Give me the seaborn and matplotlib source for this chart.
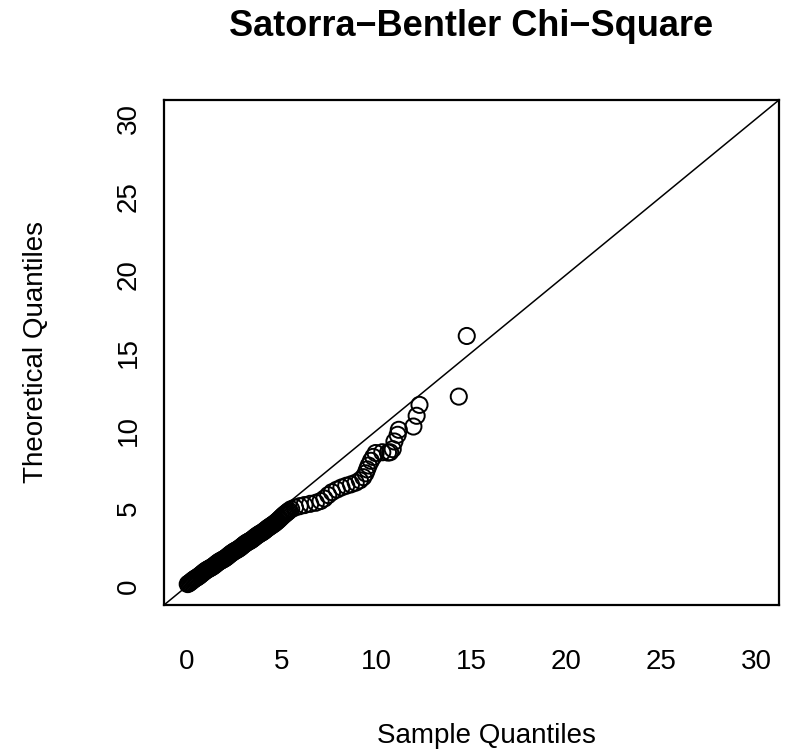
import matplotlib
matplotlib.use("Agg")
import matplotlib.pyplot as plt
import seaborn as sns
import pandas as pd

# ---- data ----
sample_q = [0.05, 0.11, 0.17, 0.23, 0.29, 0.35, 0.41, 0.47, 0.53, 0.59, 0.65, 0.71, 0.77, 0.83,
            0.89, 0.95, 1.01, 1.07, 1.13, 1.19, 1.25, 1.31, 1.37, 1.43, 1.49, 1.55, 1.61, 1.67,
            1.73, 1.79, 1.85, 1.91, 1.97, 2.03, 2.09, 2.15, 2.21, 2.27, 2.33, 2.39, 2.45, 2.51,
            2.57, 2.63, 2.69, 2.75, 2.81, 2.87, 2.93, 2.99, 3.05, 3.11, 3.17, 3.23, 3.29, 3.35,
            3.41, 3.47, 3.53, 3.59, 3.65, 3.71, 3.77, 3.83, 3.89, 3.95, 4.01, 4.07, 4.13, 4.19,
            4.25, 4.31, 4.37, 4.43, 4.49, 4.55, 4.61, 4.67, 4.73, 4.79, 4.85, 4.91, 4.97, 5.03,
            5.09, 5.15, 5.21, 5.27, 5.33, 5.39,
            5.5, 5.7, 5.95, 6.2, 6.5, 6.8, 7.05, 7.25, 7.45, 7.65, 7.9, 8.15, 8.4, 8.65, 8.9,
            9.12, 9.3, 9.42, 9.5, 9.58, 9.7, 9.82, 9.95,
            10.3, 10.6, 10.71, 10.85, 10.94, 11.11, 11.17, 11.94, 12.11, 12.26, 14.33, 14.75]
theoretical_q = [0.14, 0.19, 0.24, 0.30, 0.36, 0.42, 0.47, 0.52, 0.56, 0.61, 0.66, 0.72, 0.78, 0.84,
                 0.90, 0.96, 1.01, 1.06, 1.10, 1.14, 1.18, 1.22, 1.27, 1.32, 1.38, 1.44, 1.50, 1.55,
                 1.60, 1.64, 1.68, 1.72, 1.76, 1.81, 1.86, 1.92, 1.98, 2.04, 2.10, 2.15, 2.20, 2.25,
                 2.29, 2.33, 2.37, 2.42, 2.47, 2.53, 2.59, 2.65, 2.71, 2.76, 2.81, 2.85, 2.89, 2.93,
                 2.98, 3.03, 3.09, 3.15, 3.21, 3.26, 3.31, 3.36, 3.40, 3.44, 3.49, 3.54, 3.60, 3.66,
                 3.72, 3.77, 3.82, 3.87, 3.92, 3.97, 4.02, 4.08, 4.14, 4.20, 4.27, 4.34, 4.41, 4.48,
                 4.55, 4.61, 4.67, 4.73, 4.79, 4.85,
                 4.95, 5.05, 5.14, 5.21, 5.29, 5.36, 5.47, 5.63, 5.85, 6.04, 6.2, 6.34, 6.45, 6.54,
                 6.65, 6.8, 7.0, 7.25, 7.5, 7.75, 8.05, 8.3, 8.55,
                 8.6, 8.58, 8.6, 8.8, 9.29, 9.72, 10.04, 10.25, 10.94, 11.64, 12.17, 16.06]
tick_values = [0, 5, 10, 15, 20, 25, 30]
axis_limits = (-1.2, 31.2)
title_text = "Satorra\u2212Bentler Chi\u2212Square"
x_label = "Sample Quantiles"
y_label = "Theoretical Quantiles"

df = pd.DataFrame({"sample": sample_q, "theoretical": theoretical_q})

sns.set_style("white")
plt.rcParams["font.family"] = ["Liberation Sans", "DejaVu Sans"]
plt.rcParams["text.color"] = "black"

W, H = 792, 754
L, R, T, B = 164, 779, 100, 605
fig = plt.figure(figsize=(W / 100, H / 100), dpi=100)
ax = fig.add_axes([L / W, 1 - B / H, (R - L) / W, (B - T) / H])

sns.scatterplot(data=df, x="sample", y="theoretical", ax=ax, marker="o",
                s=135, facecolor="none", edgecolor="black", linewidth=1.4, legend=False)
ax.axline((0, 0), slope=1, color="black", linewidth=1.1)

ax.set_xlim(*axis_limits)
ax.set_ylim(*axis_limits)
ax.set_xticks(tick_values)
ax.set_yticks(tick_values)
ax.set_xticklabels([str(v) for v in tick_values], fontsize=20)
ax.set_yticklabels([str(v) for v in tick_values], fontsize=20, rotation=90, va="center")
ax.tick_params(axis="both", direction="out", length=13, width=1.4, color="black",
               labelcolor="black")
ax.tick_params(axis="x", pad=19)
ax.tick_params(axis="y", pad=3)
for sp in ax.spines.values():
    sp.set_visible(True)
    sp.set_color("black")
    sp.set_linewidth(1.6)

ax.set_xlabel("")
ax.set_ylabel("")
cx = 0.5 * (L + R) / W
cy = 1 - 0.5 * (T + B) / H
fig.text(486 / W, 1 - 736 / H, x_label, ha="center", va="center", fontsize=20)
fig.text(36 / W, cy, y_label, ha="center", va="center", rotation=90, fontsize=20)
fig.text(cx, 1 - 27 / H, title_text, ha="center", va="center",
         fontsize=26, fontweight="bold")

fig.savefig("out.png", dpi=100)
